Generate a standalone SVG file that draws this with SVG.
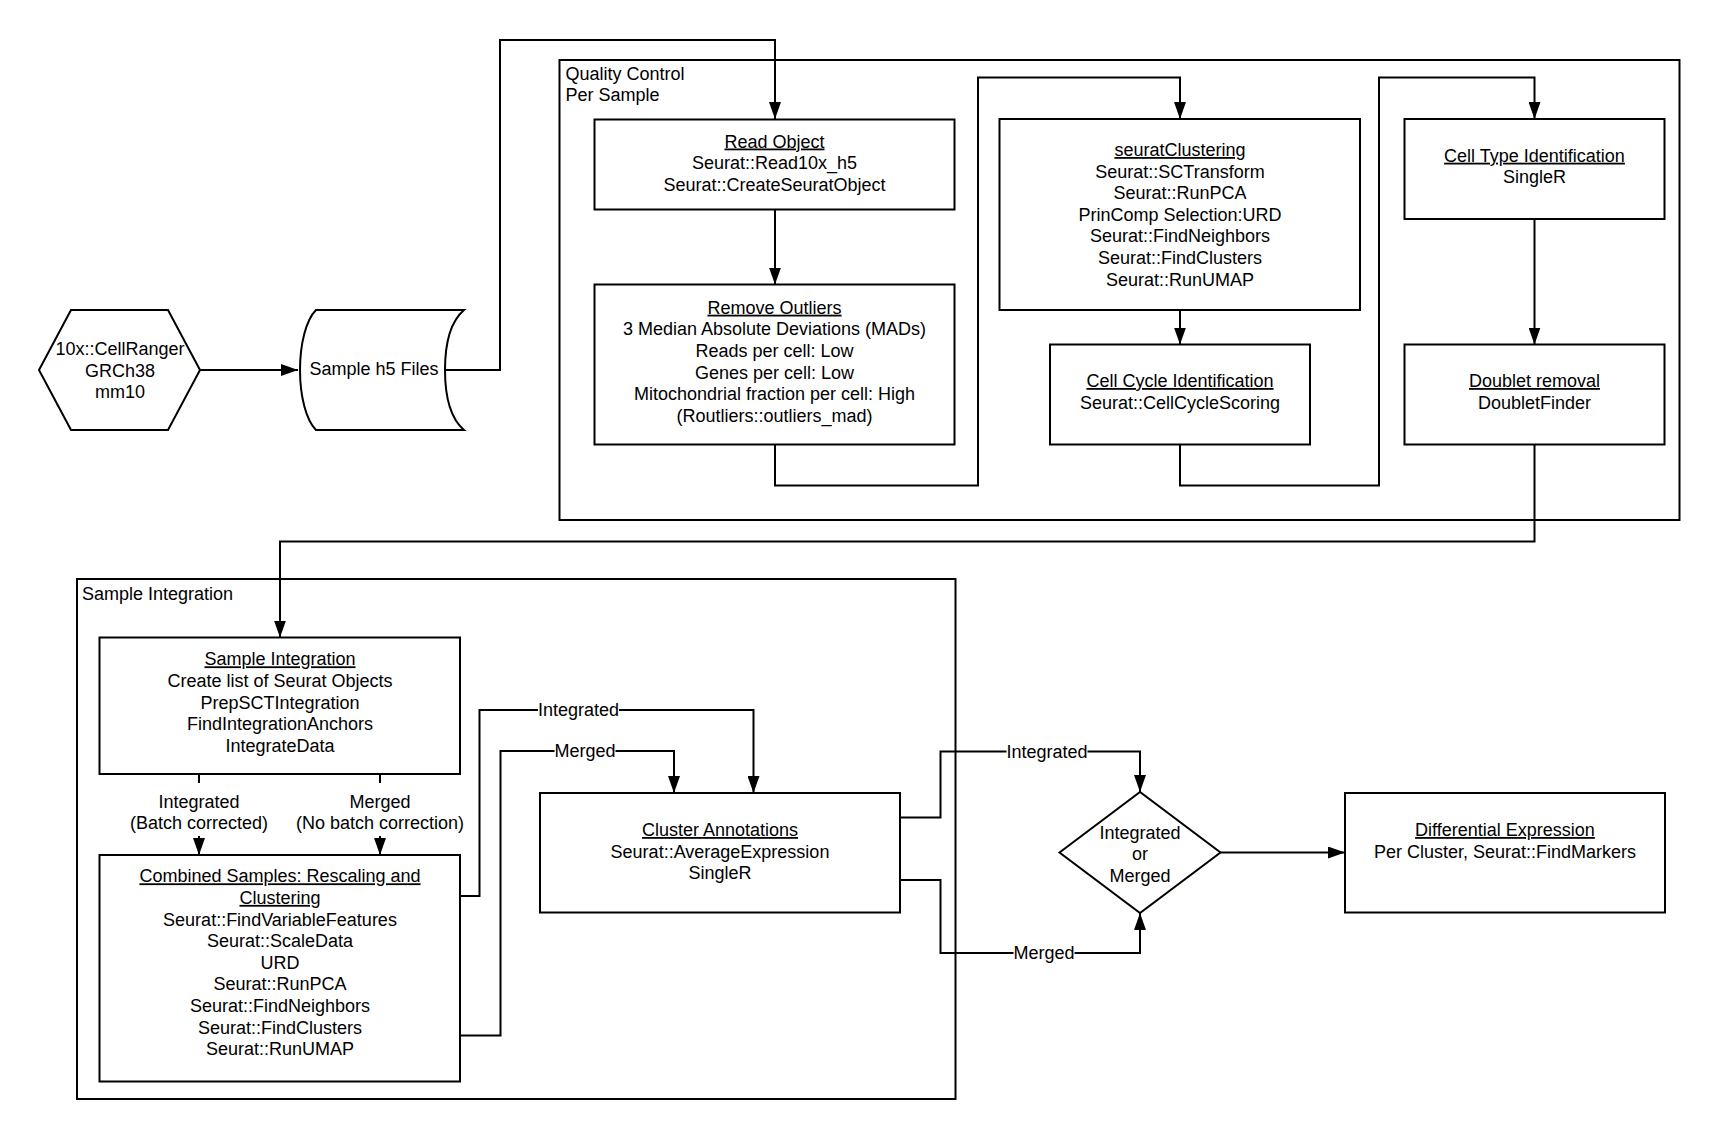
<svg xmlns="http://www.w3.org/2000/svg" width="1720" height="1140" viewBox="0 0 1720 1140">
<style>
text{font-family:"Liberation Sans",Arial,sans-serif;font-size:18px;fill:#000}
.c{text-anchor:middle}
.u{text-decoration:underline}
.box{fill:#fff;stroke:#000;stroke-width:2}
.cont{fill:none;stroke:#000;stroke-width:2}
.ln{fill:none;stroke:#000;stroke-width:2}
.lbg{fill:#fff;stroke:none}
</style>
<defs>
<marker id="arr" markerWidth="17" markerHeight="12" refX="17" refY="6" orient="auto" markerUnits="userSpaceOnUse"><path d="M0,0 L17,6 L0,12 Z" fill="#000"/></marker>
</defs>
<rect x="0" y="0" width="1720" height="1140" fill="#fff"/>

<g id="qc-container">
<rect class="cont" x="559.5" y="60" width="1120" height="460"/>
<text x="565.5" y="79.5">Quality Control</text>
<text x="565.5" y="101">Per Sample</text>
</g>
<g id="si-container">
<rect class="cont" x="77" y="579" width="878.5" height="520"/>
<text x="82" y="599.5">Sample Integration</text>
</g>

<g id="connectors">
<path class="ln" d="M200,370 H298" marker-end="url(#arr)"/>
<path class="ln" d="M445,370 H500 V40 H775 V119" marker-end="url(#arr)"/>
<path class="ln" d="M775,209.5 V284.5" marker-end="url(#arr)"/>
<path class="ln" d="M775,444.5 V485.5 H978 V77.5 H1180 V119" marker-end="url(#arr)"/>
<path class="ln" d="M1180,310 V344.5" marker-end="url(#arr)"/>
<path class="ln" d="M1180,444.5 V485.5 H1379 V77.5 H1534.5 V119" marker-end="url(#arr)"/>
<path class="ln" d="M1534.5,219 V344.5" marker-end="url(#arr)"/>
<path class="ln" d="M1534.5,444.5 V541.5 H280 V637.5" marker-end="url(#arr)"/>
<path class="ln" d="M199,774 V783"/>
<path class="ln" d="M199,836 V855" marker-end="url(#arr)"/>
<text class="c" x="199" y="807.5">Integrated</text>
<text class="c" x="199" y="829">(Batch corrected)</text>
<path class="ln" d="M380,774 V783"/>
<path class="ln" d="M380,836 V855" marker-end="url(#arr)"/>
<text class="c" x="380" y="807.5">Merged</text>
<text class="c" x="380" y="829">(No batch correction)</text>
<path class="ln" d="M460,896 H479.5 V710 H753.5 V793" marker-end="url(#arr)"/>
<rect class="lbg" x="538" y="700" width="81" height="20"/>
<text class="c" x="578.5" y="716">Integrated</text>
<path class="ln" d="M460,1035.5 H500.5 V751 H674 V793" marker-end="url(#arr)"/>
<rect class="lbg" x="554.5" y="741" width="61" height="20"/>
<text class="c" x="585" y="757">Merged</text>
<path class="ln" d="M900,817.5 H940.5 V751.5 H1140 V792" marker-end="url(#arr)"/>
<rect class="lbg" x="1006.5" y="741.5" width="81" height="20"/>
<text class="c" x="1047" y="757.5">Integrated</text>
<path class="ln" d="M900,880 H940.5 V953 H1140 V913" marker-end="url(#arr)"/>
<rect class="lbg" x="1013.5" y="943" width="61" height="20"/>
<text class="c" x="1044" y="959">Merged</text>
<path class="ln" d="M1220.5,852.5 H1345" marker-end="url(#arr)"/>
</g>

<g id="cellranger">
<polygon class="box" points="39,370 71,310 168,310 200,370 168,430 71,430"/>
<text class="c" x="120" y="355">10x::CellRanger</text>
<text class="c" x="120" y="376.5">GRCh38</text>
<text class="c" x="120" y="398">mm10</text>
</g>
<g id="h5files">
<path class="box" d="M316,310 L464,310 C450,322 445,346 445,370 C445,394 450,418 464,430 L316,430 C306,420 300,396 300,370 C300,344 306,320 316,310 Z"/>
<text class="c" x="374" y="375">Sample h5 Files</text>
</g>
<g id="read-object">
<rect class="box" x="594.5" y="119.5" width="360" height="90"/>
<text class="c u" x="774.5" y="147.5">Read Object</text>
<text class="c" x="774.5" y="169">Seurat::Read10x_h5</text>
<text class="c" x="774.5" y="190.5">Seurat::CreateSeuratObject</text>
</g>
<g id="remove-outliers">
<rect class="box" x="594.5" y="284.5" width="360" height="160"/>
<text class="c u" x="774.5" y="313.7">Remove Outliers</text>
<text class="c" x="774.5" y="335.3">3 Median Absolute Deviations (MADs)</text>
<text class="c" x="774.5" y="357">Reads per cell: Low</text>
<text class="c" x="774.5" y="378.6">Genes per cell: Low</text>
<text class="c" x="774.5" y="400.2">Mitochondrial fraction per cell: High</text>
<text class="c" x="774.5" y="421.8">(Routliers::outliers_mad)</text>
</g>
<g id="seurat-clustering">
<rect class="box" x="999.5" y="119" width="360.5" height="191"/>
<text class="c u" x="1180" y="156">seuratClustering</text>
<text class="c" x="1180" y="177.6">Seurat::SCTransform</text>
<text class="c" x="1180" y="199.2">Seurat::RunPCA</text>
<text class="c" x="1180" y="220.8">PrinComp Selection:URD</text>
<text class="c" x="1180" y="242.4">Seurat::FindNeighbors</text>
<text class="c" x="1180" y="264">Seurat::FindClusters</text>
<text class="c" x="1180" y="285.6">Seurat::RunUMAP</text>
</g>
<g id="cell-cycle">
<rect class="box" x="1050" y="344.5" width="260" height="100"/>
<text class="c u" x="1180" y="387">Cell Cycle Identification</text>
<text class="c" x="1180" y="408.6">Seurat::CellCycleScoring</text>
</g>
<g id="cell-type">
<rect class="box" x="1404.5" y="119" width="260" height="100"/>
<text class="c u" x="1534.5" y="161.7">Cell Type Identification</text>
<text class="c" x="1534.5" y="183.3">SingleR</text>
</g>
<g id="doublet">
<rect class="box" x="1404.5" y="344.5" width="260" height="100"/>
<text class="c u" x="1534.5" y="387">Doublet removal</text>
<text class="c" x="1534.5" y="408.6">DoubletFinder</text>
</g>
<g id="sample-integration">
<rect class="box" x="99.5" y="637.5" width="360.5" height="136.5"/>
<text class="c u" x="280" y="665.3">Sample Integration</text>
<text class="c" x="280" y="686.9">Create list of Seurat Objects</text>
<text class="c" x="280" y="708.5">PrepSCTIntegration</text>
<text class="c" x="280" y="730.1">FindIntegrationAnchors</text>
<text class="c" x="280" y="751.7">IntegrateData</text>
</g>
<g id="combined-samples">
<rect class="box" x="99.5" y="855" width="360.5" height="226.5"/>
<text class="c u" x="280" y="882.3">Combined Samples: Rescaling and</text>
<text class="c u" x="280" y="903.9">Clustering</text>
<text class="c" x="280" y="925.5">Seurat::FindVariableFeatures</text>
<text class="c" x="280" y="947.1">Seurat::ScaleData</text>
<text class="c" x="280" y="968.7">URD</text>
<text class="c" x="280" y="990.3">Seurat::RunPCA</text>
<text class="c" x="280" y="1011.9">Seurat::FindNeighbors</text>
<text class="c" x="280" y="1033.5">Seurat::FindClusters</text>
<text class="c" x="280" y="1055.1">Seurat::RunUMAP</text>
</g>
<g id="cluster-annotations">
<rect class="box" x="540" y="793" width="360" height="119.5"/>
<text class="c u" x="720" y="836">Cluster Annotations</text>
<text class="c" x="720" y="857.6">Seurat::AverageExpression</text>
<text class="c" x="720" y="879.2">SingleR</text>
</g>
<g id="decision">
<polygon class="box" points="1059.5,852.5 1140,792 1220.5,852.5 1140,913"/>
<text class="c" x="1140" y="838.7">Integrated</text>
<text class="c" x="1140" y="860.3">or</text>
<text class="c" x="1140" y="881.9">Merged</text>
</g>
<g id="differential-expression">
<rect class="box" x="1345" y="793" width="320" height="119.5"/>
<text class="c u" x="1505" y="836">Differential Expression</text>
<text class="c" x="1505" y="857.6">Per Cluster, Seurat::FindMarkers</text>
</g>
</svg>
